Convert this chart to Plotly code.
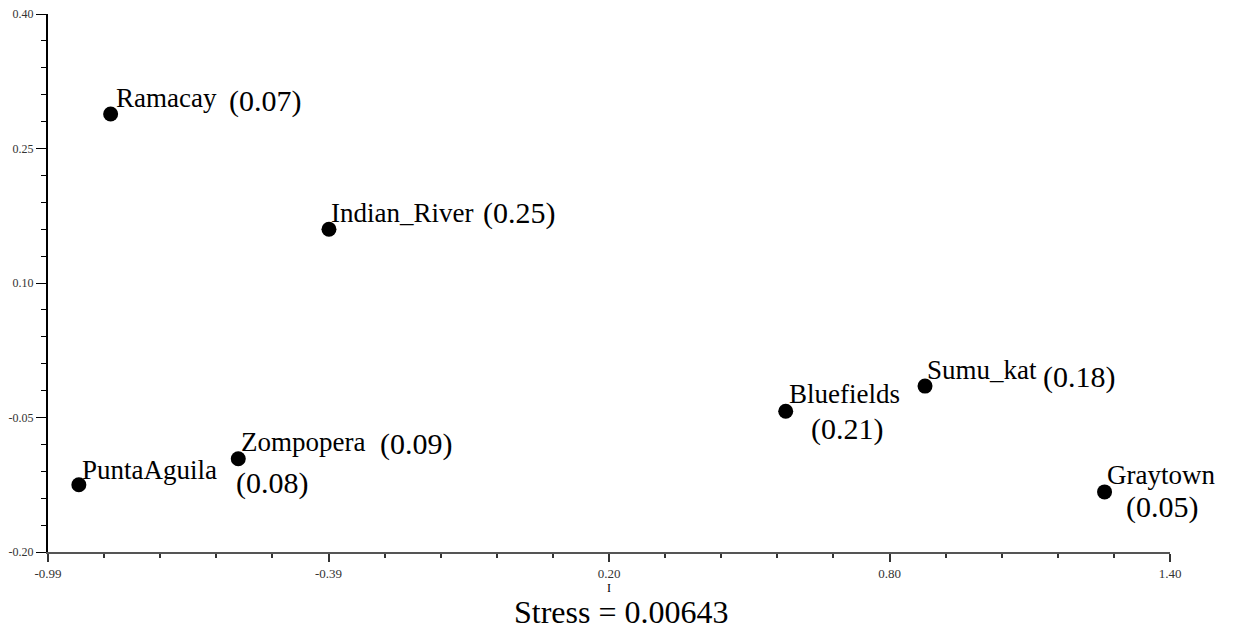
import plotly.graph_objects as go

# MDS configuration: site coordinates on dimension I / II and per-site stress
sites = ["Ramacay", "Indian_River", "Zompopera", "PuntaAguila",
         "Bluefields", "Sumu_kat", "Graytown"]
dim1 = [-0.856, -0.389, -0.583, -0.924, 0.588, 0.886, 1.270]
dim2 = [0.2885, 0.160, -0.096, -0.125, -0.043, -0.015, -0.133]
site_stress = ["0.07", "0.25", "0.09", "0.08", "0.21", "0.18", "0.05"]
total_stress = "0.00643"

x_ticks = [-0.99, -0.39, 0.21, 0.81, 1.41]
x_ticktext = ["-0.99", "-0.39", "0.20", "0.80", "1.40"]
y_ticks = [-0.20, -0.05, 0.10, 0.25, 0.40]
y_ticktext = ["-0.20", "-0.05", "0.10", "0.25", "0.40"]

# label offsets in pixels (name dx, name dy, value dx, value dy)
offsets = [
    (3, 16, 116, 13),
    (0, 16, 152, 16),
    (1, 17, 140, 15),
    (1, 15, 155, 2),
    (1, 17, 23, -18),
    (0, 16, 116, 9),
    (0, 17, 19, -15),
]

SERIF = "Liberation Serif, Times New Roman, serif"

fig = go.Figure()
fig.add_trace(go.Scatter(
    x=dim1, y=dim2, mode="markers",
    marker=dict(color="black", size=15),
    hovertext=sites, showlegend=False,
))

for name, xv, yv, s, (ndx, ndy, vdx, vdy) in zip(sites, dim1, dim2, site_stress, offsets):
    fig.add_annotation(x=xv, y=yv, text=name, showarrow=False,
                       xanchor="left", yanchor="middle",
                       xshift=ndx, yshift=ndy,
                       font=dict(family=SERIF, size=27, color="black"))
    fig.add_annotation(x=xv, y=yv, text=f"({s})", showarrow=False,
                       xanchor="left", yanchor="middle",
                       xshift=vdx, yshift=vdy,
                       font=dict(family=SERIF, size=30, color="black"))

fig.add_annotation(x=0.5, y=0, xref="paper", yref="paper", yanchor="middle",
                   yshift=-36, text="I", showarrow=False,
                   font=dict(family=SERIF, size=12, color="black"))
fig.add_annotation(x=0.5, y=0, xref="paper", yref="paper", yanchor="middle",
                   xshift=12, yshift=-60, text=f"Stress = {total_stress}",
                   showarrow=False,
                   font=dict(family=SERIF, size=32, color="black"))

fig.update_layout(
    width=1231, height=621,
    plot_bgcolor="white", paper_bgcolor="white",
    margin=dict(l=40, r=69, t=6, b=77),
    font=dict(family=SERIF, size=13, color="#333"),
    xaxis=dict(
        range=[-0.99, 1.41], showgrid=False, zeroline=False, automargin=False,
        showline=True, linecolor="#555", linewidth=2,
        ticks="outside", ticklen=8, tickwidth=2, tickcolor="#333",
        tickvals=x_ticks, ticktext=x_ticktext, ticklabeloverflow="allow",
        tickfont=dict(family=SERIF, size=13, color="#333"),
        minor=dict(ticks="outside", ticklen=4, tickwidth=2, tickcolor="#333",
                   tick0=-0.99, dtick=0.12, showgrid=False),
    ),
    yaxis=dict(
        range=[-0.20, 0.40], showgrid=False, zeroline=False, automargin=False,
        showline=True, linecolor="black", linewidth=2,
        ticks="outside", ticklen=10, tickwidth=1, tickcolor="black",
        tickvals=y_ticks, ticktext=y_ticktext, ticklabeloverflow="allow",
        tickfont=dict(family=SERIF, size=12, color="#333"),
        minor=dict(ticks="outside", ticklen=5, tickwidth=1, tickcolor="black",
                   tick0=-0.20, dtick=0.03, showgrid=False),
    ),
)

fig.write_html("out.html")
